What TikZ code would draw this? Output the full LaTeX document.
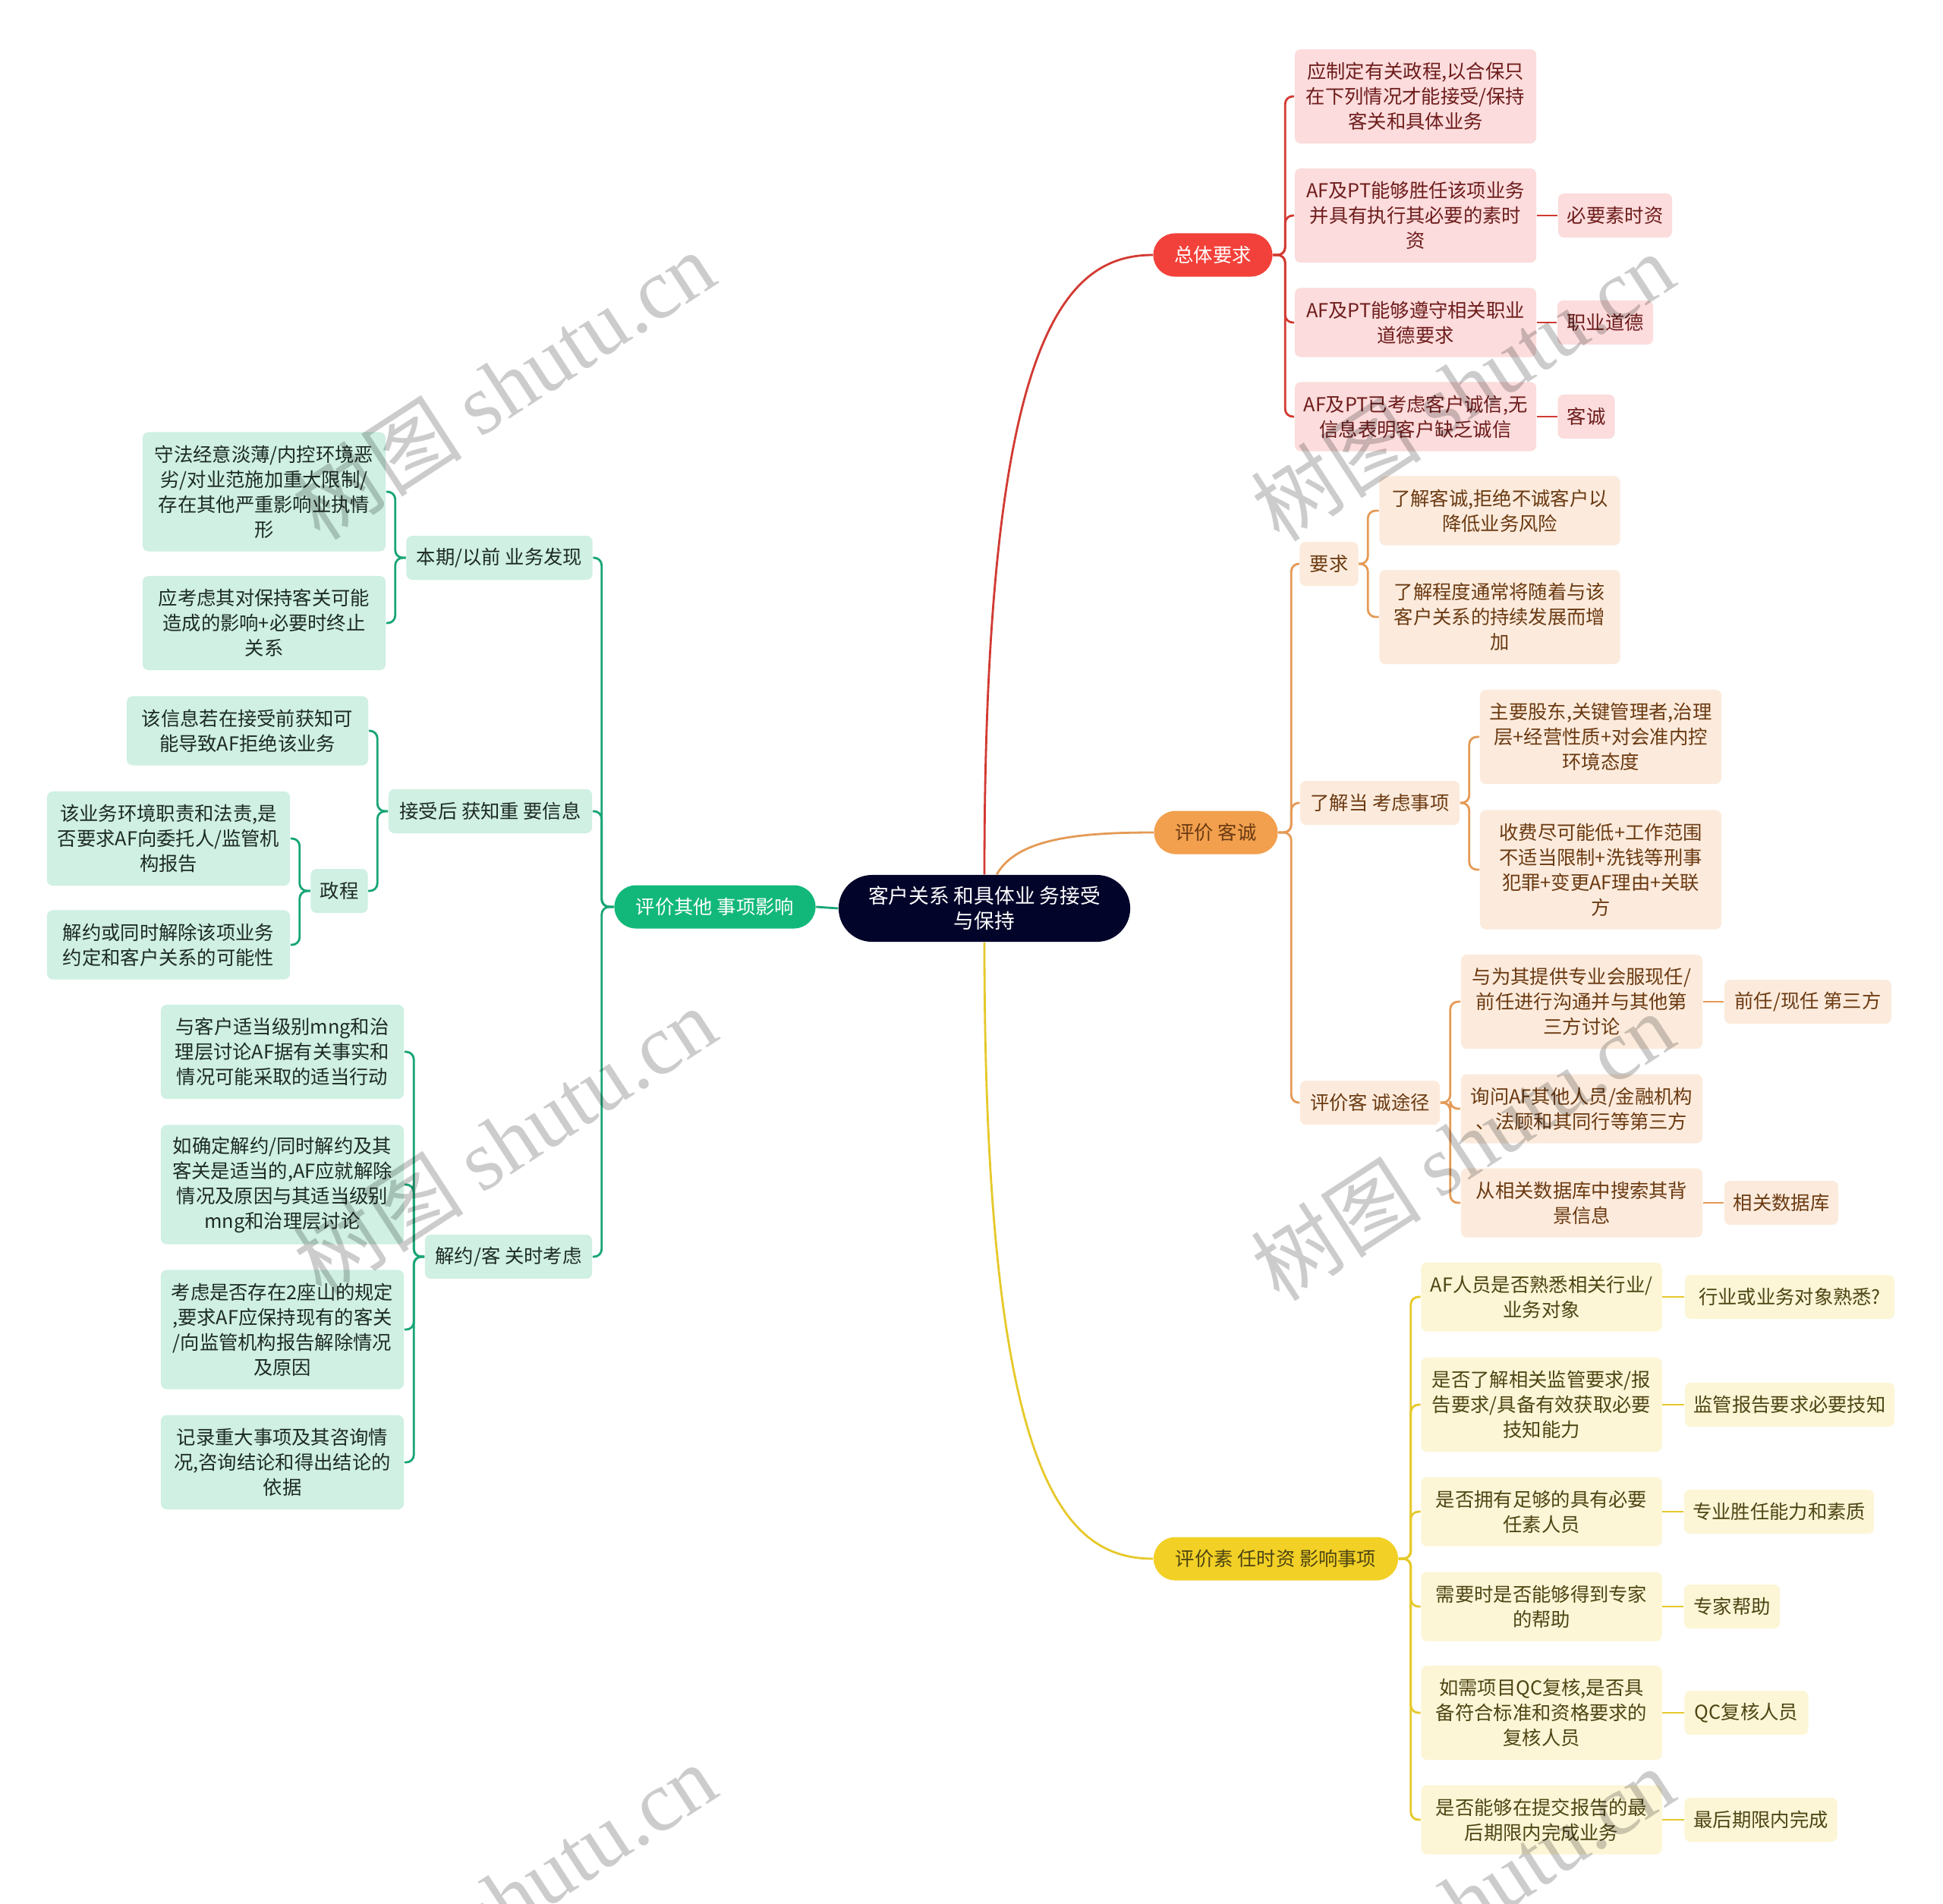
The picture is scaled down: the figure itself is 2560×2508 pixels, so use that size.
\documentclass[tikz,border=0pt]{standalone}
\usepackage{fontspec}
\setmainfont{Noto Sans CJK SC}
\newfontfamily\wmlatin{Liberation Serif}
\usetikzlibrary{positioning}
\usepackage{xcolor}
\definecolor{rootbg}{HTML}{03042A}
\definecolor{redmain}{HTML}{F2413A}
\definecolor{redline}{HTML}{D23A32}
\definecolor{redbg}{HTML}{FCDCDC}
\definecolor{redtxt}{HTML}{6E1C1C}
\definecolor{orgmain}{HTML}{F2A04E}
\definecolor{orgline}{HTML}{E59A55}
\definecolor{orgbg}{HTML}{FCEBDC}
\definecolor{orgtxt}{HTML}{6B3A12}
\definecolor{ylwmain}{HTML}{F2D025}
\definecolor{ylwline}{HTML}{E6C92A}
\definecolor{ylwbg}{HTML}{FCF6D6}
\definecolor{ylwtxt}{HTML}{4E4514}
\definecolor{grnmain}{HTML}{12B87A}
\definecolor{grnline}{HTML}{18A574}
\definecolor{grnbg}{HTML}{CFF0E2}
\definecolor{grntxt}{HTML}{1D2B24}

\newcommand\leaffont{\fontsize{7.2}{9.4}\selectfont}
\newcommand\centrefont{\fontsize{7.6}{9.4}\selectfont}

\tikzset{
  leaf/.style={rectangle, rounded corners=2.2pt, align=center, inner xsep=0.1cm,
    inner ysep=0pt, font=\leaffont, minimum width=3.18cm},
  h1/.style={minimum height=0.58cm},
  h2/.style={minimum height=0.91cm},
  h3/.style={minimum height=1.24cm},
  h4/.style={minimum height=1.57cm},
  redleaf/.style={leaf, fill=redbg, text=redtxt},
  orgleaf/.style={leaf, fill=orgbg, text=orgtxt},
  ylwleaf/.style={leaf, fill=ylwbg, text=ylwtxt},
  grnleaf/.style={leaf, fill=grnbg, text=grntxt},
  topic/.style={rectangle, rounded corners=0.285cm, align=center, font=\leaffont,
    minimum height=0.57cm, inner sep=0pt},
  centre/.style={rectangle, rounded corners=0.44cm, fill=rootbg, text=white,
    align=center, font=\centrefont, minimum width=3.84cm, minimum height=0.88cm,
    inner sep=0pt},
  link/.style={line width=0.8pt, rounded corners=0.1cm},
  mark wm/.style={rotate=33, text=black, text opacity=0.2,
    font=\fontsize{32}{32}\selectfont}
}

\begin{document}
\begin{tikzpicture}[x=0.01cm, y=-0.01cm]
  \fill[white] (0,0) rectangle (2560,2508);
  \useasboundingbox (0,0) rectangle (2560,2508);

  % centre
  \node[centre] (root) at (1297,1197) {客户关系 和具体业 务接受\\与保持};

  % 总体要求
  \node[topic, fill=redmain, text=white, minimum width=1.57cm] (zt) at (1598,336) {总体要求};
  \node[redleaf, h3] (zt1) at (1865,127) {应制定有关政程,以合保只\\在下列情况才能接受/保持\\客关和具体业务};
  \node[redleaf, h3] (zt2) at (1865,284) {AF及PT能够胜任该项业务\\并具有执行其必要的素时\\资};
  \node[redleaf, h2] (zt3) at (1865,425) {AF及PT能够遵守相关职业\\道德要求};
  \node[redleaf, h2] (zt4) at (1865,549) {AF及PT已考虑客户诚信,无\\信息表明客户缺乏诚信};
  \node[redleaf, h1, minimum width=1.50cm] (zt2a) at (2128,284) {必要素时资};
  \node[redleaf, h1, minimum width=1.26cm] (zt3a) at (2115,425) {职业道德};
  \node[redleaf, h1, minimum width=0.75cm] (zt4a) at (2090,549) {客诚};

  % 评价客诚
  \node[topic, fill=orgmain, text=orgtxt, minimum width=1.63cm] (cx) at (1602,1097) {评价 客诚};
  \node[orgleaf, h1, minimum width=0.77cm] (cx1) at (1751,743) {要求};
  \node[orgleaf, h2, minimum width=3.17cm] (cx1a) at (1976,673) {了解客诚,拒绝不诚客户以\\降低业务风险};
  \node[orgleaf, h3, minimum width=3.17cm] (cx1b) at (1976,813) {了解程度通常将随着与该\\客户关系的持续发展而增\\加};
  \node[orgleaf, h1, minimum width=2.10cm] (cx2) at (1818,1058) {了解当 考虑事项};
  \node[orgleaf, h3] (cx2a) at (2109,971) {主要股东,关键管理者,治理\\层+经营性质+对会准内控\\环境态度};
  \node[orgleaf, h4] (cx2b) at (2109,1146) {收费尽可能低+工作范围\\不适当限制+洗钱等刑事\\犯罪+变更AF理由+关联\\方};
  \node[orgleaf, h1, minimum width=1.84cm] (cx3) at (1805,1453) {评价客 诚途径};
  \node[orgleaf, h3] (cx3a) at (2084,1320) {与为其提供专业会服现任/\\前任进行沟通并与其他第\\三方讨论};
  \node[orgleaf, h2] (cx3b) at (2084,1461) {询问AF其他人员/金融机构\\、法顾和其同行等第三方};
  \node[orgleaf, h2] (cx3c) at (2084,1585) {从相关数据库中搜索其背\\景信息};
  \node[orgleaf, h1, minimum width=2.20cm] (cx3a1) at (2382,1320) {前任/现任 第三方};
  \node[orgleaf, h1, minimum width=1.50cm] (cx3c1) at (2347,1585) {相关数据库};

  % 评价素任时资影响事项
  \node[topic, fill=ylwmain, text=ylwtxt, minimum width=3.22cm] (sz) at (1681,2054) {评价素 任时资 影响事项};
  \node[ylwleaf, h2, minimum width=3.17cm] (sz1) at (2031,1709) {AF人员是否熟悉相关行业/\\业务对象};
  \node[ylwleaf, h3, minimum width=3.17cm] (sz2) at (2031,1851) {是否了解相关监管要求/报\\告要求/具备有效获取必要\\技知能力};
  \node[ylwleaf, h2, minimum width=3.17cm] (sz3) at (2031,1992) {是否拥有足够的具有必要\\任素人员};
  \node[ylwleaf, h2, minimum width=3.17cm] (sz4) at (2031,2117) {需要时是否能够得到专家\\的帮助};
  \node[ylwleaf, h3, minimum width=3.17cm] (sz5) at (2031,2257) {如需项目QC复核,是否具\\备符合标准和资格要求的\\复核人员};
  \node[ylwleaf, h2, minimum width=3.17cm] (sz6) at (2031,2398) {是否能够在提交报告的最\\后期限内完成业务};
  \node[ylwleaf, h1, minimum width=2.76cm] (sz1a) at (2358,1709) {行业或业务对象熟悉?};
  \node[ylwleaf, h1, minimum width=2.76cm] (sz2a) at (2358,1851) {监管报告要求必要技知};
  \node[ylwleaf, h1, minimum width=2.50cm] (sz3a) at (2344,1992) {专业胜任能力和素质};
  \node[ylwleaf, h1, minimum width=1.26cm] (sz4a) at (2282,2117) {专家帮助};
  \node[ylwleaf, h1, minimum width=1.63cm] (sz5a) at (2301,2257) {QC复核人员};
  \node[ylwleaf, h1, minimum width=2.01cm] (sz6a) at (2320,2398) {最后期限内完成};

  % 评价其他事项影响
  \node[topic, fill=grnmain, text=white, minimum width=2.65cm] (qt) at (942,1195) {评价其他 事项影响};
  \node[grnleaf, h1, minimum width=2.45cm] (qt1) at (658,735) {本期/以前 业务发现};
  \node[grnleaf, h4, minimum width=3.20cm] (qt1a) at (348,648) {守法经意淡薄/内控环境恶\\劣/对业范施加重大限制/\\存在其他严重影响业执情\\形};
  \node[grnleaf, h3, minimum width=3.20cm] (qt1b) at (348,821) {应考虑其对保持客关可能\\造成的影响+必要时终止\\关系};
  \node[grnleaf, h1, minimum width=2.68cm] (qt2) at (646,1069) {接受后 获知重 要信息};
  \node[grnleaf, h2] (qt2a) at (326,963) {该信息若在接受前获知可\\能导致AF拒绝该业务};
  \node[grnleaf, h1, minimum width=0.75cm] (qt2b) at (447,1174) {政程};
  \node[grnleaf, h3, minimum width=3.20cm] (qt2b1) at (222,1105) {该业务环境职责和法责,是\\否要求AF向委托人/监管机\\构报告};
  \node[grnleaf, h2, minimum width=3.20cm] (qt2b2) at (222,1245) {解约或同时解除该项业务\\约定和客户关系的可能性};
  \node[grnleaf, h1, minimum width=2.20cm] (qt3) at (670,1656) {解约/客 关时考虑};
  \node[grnleaf, h3, minimum width=3.20cm] (qt3a) at (372,1386) {与客户适当级别mng和治\\理层讨论AF据有关事实和\\情况可能采取的适当行动};
  \node[grnleaf, h4, minimum width=3.20cm] (qt3b) at (372,1561) {如确定解约/同时解约及其\\客关是适当的,AF应就解除\\情况及原因与其适当级别\\mng和治理层讨论};
  \node[grnleaf, h4, minimum width=3.20cm] (qt3c) at (372,1752) {考虑是否存在2座山的规定\\,要求AF应保持现有的客关\\/向监管机构报告解除情况\\及原因};
  \node[grnleaf, h3, minimum width=3.20cm] (qt3d) at (372,1927) {记录重大事项及其咨询情\\况,咨询结论和得出结论的\\依据};

  % branches from the centre
  \draw[link, redline] (root.north) .. controls (1297,450) and (1400,336) .. (zt.west);
  \draw[link, orgline] (root.70) .. controls (1340,1105) and (1420,1097) .. (cx.west);
  \draw[link, ylwline] (root.south) .. controls (1297,1944) and (1400,2054) .. (sz.west);
  \draw[link, grnline] (root.west) -- (qt.east);

  % red
  \foreach \c in {zt1,zt2,zt3,zt4}
    \draw[link, redline] (zt.east) -- ++(16,0) |- (\c.west);
  \foreach \a/\b in {zt2/zt2a,zt3/zt3a,zt4/zt4a}
    \draw[link, redline] (\a.east) -- (\b.west);

  % orange
  \foreach \c in {cx1,cx2,cx3}
    \draw[link, orgline] (cx.east) -- ++(17,0) |- (\c.west);
  \foreach \c in {cx1a,cx1b}
    \draw[link, orgline] (cx1.east) -- ++(12,0) |- (\c.west);
  \foreach \c in {cx2a,cx2b}
    \draw[link, orgline] (cx2.east) -- ++(12,0) |- (\c.west);
  \foreach \c in {cx3a,cx3b,cx3c}
    \draw[link, orgline] (cx3.east) -- ++(13,0) |- (\c.west);
  \draw[link, orgline] (cx3a.east) -- (cx3a1.west);
  \draw[link, orgline] (cx3c.east) -- (cx3c1.west);

  % yellow
  \foreach \c/\d in {sz1/sz1a,sz2/sz2a,sz3/sz3a,sz4/sz4a,sz5/sz5a,sz6/sz6a}{
    \draw[link, ylwline] (sz.east) -- ++(16,0) |- (\c.west);
    \draw[link, ylwline] (\c.east) -- (\d.west);
  }

  % green
  \foreach \c in {qt1,qt2,qt3}
    \draw[link, grnline] (qt.west) -- ++(-16,0) |- (\c.east);
  \foreach \c in {qt1a,qt1b}
    \draw[link, grnline] (qt1.west) -- ++(-14,0) |- (\c.east);
  \foreach \c in {qt2a,qt2b}
    \draw[link, grnline] (qt2.west) -- ++(-14,0) |- (\c.east);
  \foreach \c in {qt2b1,qt2b2}
    \draw[link, grnline] (qt2b.west) -- ++(-14,0) |- (\c.east);
  \foreach \c in {qt3a,qt3b,qt3c,qt3d}
    \draw[link, grnline] (qt3.west) -- ++(-14,0) |- (\c.east);

  % watermark
  \foreach \wx/\wy [count=\i] in {663/507,1927/509,665/1503,1927/1510,665/2500,1927/2505}
    \node[mark wm] (wm\i) at (\wx,\wy) {树图 {\wmlatin shutu.cn}};
\end{tikzpicture}
\end{document}
